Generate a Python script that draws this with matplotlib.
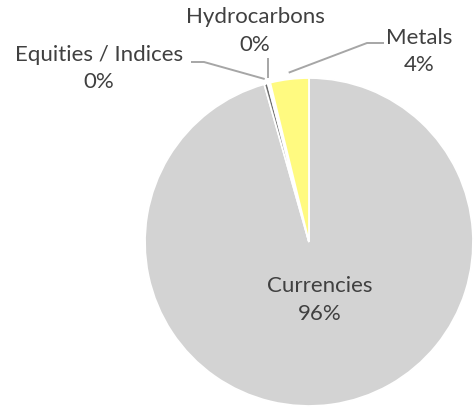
import numpy as np
import matplotlib
matplotlib.use('Agg')
import matplotlib.pyplot as plt

categories = ['Currencies', 'Equities / Indices', 'Hydrocarbons', 'Metals']
shares = [95.6, 0.35, 0.25, 3.8]
colors = ['#d3d3d3', '#6e6e6e', '#ffffff', '#fffa80']

W, H = 476, 407
plt.rcParams['font.family'] = ['Lato', 'DejaVu Sans']
TXT = '#404040'
LEAD = '#a6a6a6'

fig = plt.figure(figsize=(W / 100, H / 100), dpi=100)
ax = fig.add_axes([0, 0, 1, 1])

cx, cy, r = 309, H - 242, 164
wedges, _ = ax.pie(shares, colors=colors, startangle=90, counterclock=False,
                   center=(cx, cy), radius=r, frame=True,
                   wedgeprops=dict(edgecolor='white', linewidth=1.3))
ax.set_xlim(0, W)
ax.set_ylim(0, H)
ax.set_axis_off()

pcts = [f"{round(s):.0f}%" for s in shares]

def edge_point(w, k=1.02):
    a = np.deg2rad((w.theta1 + w.theta2) / 2)
    return cx + k * r * np.cos(a), cy + k * r * np.sin(a)

fs = 16
def label(x, y1, y2, i):
    ax.text(x, H - y1, categories[i], ha='center', va='center', fontsize=fs, color=TXT)
    ax.text(x, H - y2, pcts[i], ha='center', va='center', fontsize=fs, color=TXT)

# Currencies inside the pie
label(320, 286, 314, 0)

# Equities / Indices
label(99, 55, 82, 1)
ex, ey = edge_point(wedges[1], 1.03)
ax.plot([191, 204, ex], [H - 62, H - 62, ey], color=LEAD, lw=1.4, solid_capstyle='butt')

# Hydrocarbons
label(255, 17, 45, 2)
hx, hy = edge_point(wedges[2], 1.03)
ax.plot([hx, hx], [H - 58, hy], color=LEAD, lw=1.4, solid_capstyle='butt')

# Metals
label(419, 38, 65, 3)
mx, my = edge_point(wedges[3], 1.04)
ax.plot([384, 367, mx], [H - 43, H - 43, my], color=LEAD, lw=1.4, solid_capstyle='butt')

fig.savefig('out.png', dpi=100, facecolor='white')
